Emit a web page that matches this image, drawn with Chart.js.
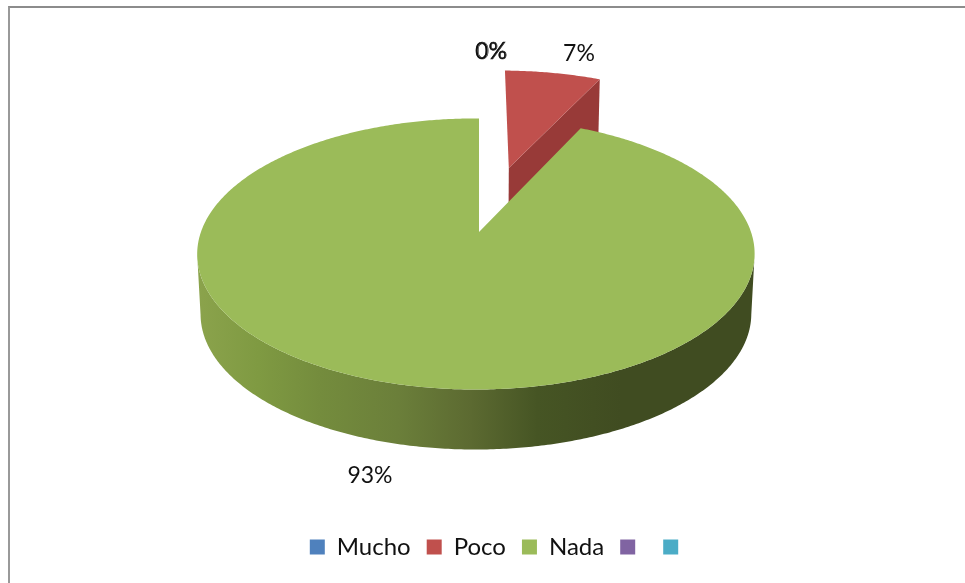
<!DOCTYPE html>
<html>
<head>
<meta charset="utf-8">
<title>Pie</title>
<script src="https://cdn.jsdelivr.net/npm/chart.js@4/dist/chart.umd.min.js"></script>
<style>
    html, body { margin: 0; padding: 0; background: #fff; overflow: hidden; }
    #frame { position: absolute; left: 8px; top: 6px; right: -10px; bottom: -10px; border-left: 2px solid #999; border-top: 2px solid #8c8c8c; }
    #pie { position: absolute; left: 0; top: 0; display: block; }
</style>
</head>
<body>
<div id="frame"></div>
<canvas id="pie" width="965" height="583"></canvas>
<script>
const categories = ['Mucho', 'Poco', 'Nada', '', ''];
const values = [0, 7, 93, 0, 0];
const sliceColors = ['#4F81BD', '#C0504D', '#9BBB59', '#8064A2', '#4BACC6'];

// how the flat disc is laid on the page
const disc = { cx: 479, cy: 232, rx: 275, ry: 132, tiltY: 0.162, tiltX: 0.011, depth: 60, shrink: 0.012 };
const explode = [0, 0.54, 0, 0, 0];
const labelSpots = [[491, 52], [579, 54], [370, 476]];
const total = values.reduce((a, b) => a + b, 0);

// unit disc coordinates to canvas, z = 0 top face, z = 1 bottom face
function project(u, v, z) {
    const w = 1 - disc.tiltY * v + disc.tiltX * u;
    return [
        disc.cx + (disc.rx * u / w) * (1 - disc.shrink * z),
        disc.cy + disc.ry * v / w + disc.depth * z
    ];
}

function rimPoints(start, end, ou, ov, z) {
    const pts = [];
    const steps = Math.max(2, Math.ceil((end - start) / 0.01));
    for (let i = 0; i <= steps; i++) {
        const a = start + (end - start) * i / steps;
        pts.push(project(ou + Math.cos(a), ov + Math.sin(a), z));
    }
    return pts;
}

// part of a rim between its rightmost and leftmost points, the side facing us
function frontOf(pts) {
    const xs = pts.map(p => p[0]);
    return pts.slice(xs.indexOf(Math.max(...xs)), xs.indexOf(Math.min(...xs)) + 1);
}

function fillPoly(ctx, pts, fill) {
    ctx.beginPath();
    pts.forEach((p, i) => i ? ctx.lineTo(p[0], p[1]) : ctx.moveTo(p[0], p[1]));
    ctx.closePath();
    ctx.fillStyle = fill;
    ctx.fill();
}

const solidPie = {
    id: 'solidPie',
    beforeDatasetsDraw(chart) {
        const ctx = chart.ctx;
        const arcs = chart.getDatasetMeta(0).data;
        const sideShade = ctx.createLinearGradient(197, 0, 755, 0);
        sideShade.addColorStop(0, '#8ba34c');
        sideShade.addColorStop(0.11, '#7f9a42');
        sideShade.addColorStop(0.22, '#748c3d');
        sideShade.addColorStop(0.36, '#6b7f3a');
        sideShade.addColorStop(0.49, '#5c6a31');
        sideShade.addColorStop(0.61, '#465524');
        sideShade.addColorStop(0.76, '#404c21');
        sideShade.addColorStop(1, '#404c21');

        // exploded slices go first, the big slice sits in front of them
        const order = arcs.map((a, i) => i).sort((a, b) => explode[b] - explode[a]);
        order.forEach(i => {
            const { startAngle, endAngle } = arcs[i].getProps(['startAngle', 'endAngle'], true);
            if (endAngle - startAngle <= 0) return;
            const mid = (startAngle + endAngle) / 2;
            const ou = explode[i] * Math.cos(mid);
            const ov = explode[i] * Math.sin(mid);
            const apex = project(ou, ov, 0);
            const top = rimPoints(startAngle, endAngle, ou, ov, 0);

            if (explode[i]) {
                // cut face on the clockwise edge
                const ex = ou + Math.cos(endAngle), ey = ov + Math.sin(endAngle);
                fillPoly(ctx, [apex, project(ex, ey, 0), project(ex, ey, 1), project(ou, ov, 1)], '#983a38');
            } else {
                const bottom = rimPoints(startAngle, endAngle, ou, ov, 1);
                fillPoly(ctx, frontOf(top).concat(frontOf(bottom).reverse()), sideShade);
            }
            fillPoly(ctx, [apex].concat(top), sliceColors[i]);
        });

        // percent labels for the named categories
        ctx.save();
        ctx.font = '23px Lato';
        ctx.fillStyle = '#111';
        ctx.strokeStyle = '#111';
        ctx.lineWidth = 0.6;
        ctx.textAlign = 'center';
        ctx.textBaseline = 'middle';
        labelSpots.forEach((spot, i) => {
            const text = Math.round(values[i] / total * 100) + '%';
            ctx.fillText(text, spot[0], spot[1]);
            if (values[i] === 0) {
                // this one prints twice on top of itself
                ctx.strokeText(text, spot[0] + 0.4, spot[1]);
            }
        });
        ctx.restore();
        return false;
    }
};

new Chart(document.getElementById('pie'), {
    type: 'pie',
    data: {
        labels: categories,
        datasets: [{ data: values, backgroundColor: sliceColors, borderWidth: 0 }]
    },
    plugins: [solidPie],
    options: {
        responsive: false,
        animation: false,
        rotation: 0,
        layout: { padding: { left: 35, right: 0, top: 0, bottom: 14 } },
        plugins: {
            tooltip: { enabled: false },
            legend: {
                position: 'bottom',
                labels: {
                    boxWidth: 15,
                    boxHeight: 15,
                    padding: 16,
                    color: '#111',
                    font: { family: 'Lato', size: 24 }
                }
            }
        }
    }
});
</script>
</body>
</html>
